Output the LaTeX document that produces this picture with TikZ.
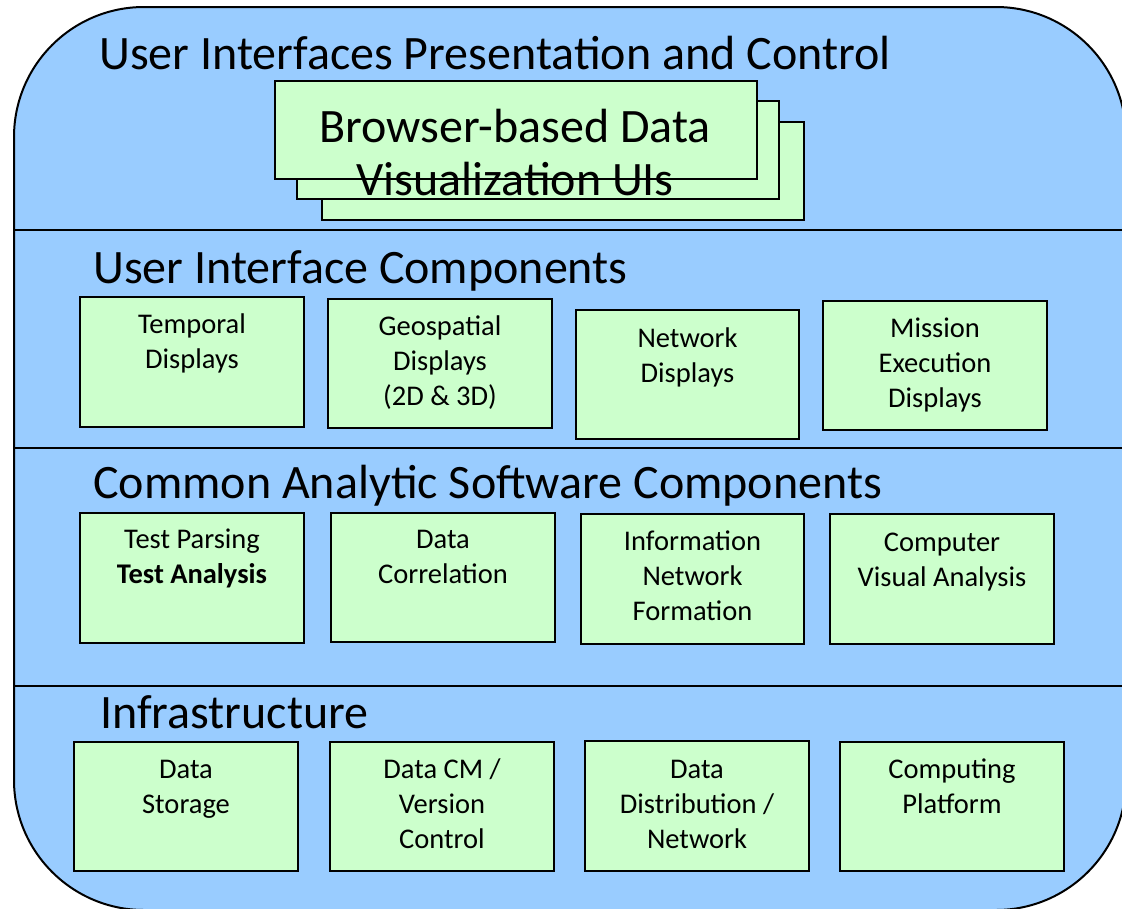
\documentclass[tikz,border=0pt]{standalone}
\usepackage{fontspec}
\setmainfont{Carlito}
\definecolor{bgblue}{HTML}{99CCFF}
\definecolor{boxgreen}{HTML}{CCFFCC}
\tikzset{
  layertitle/.style={font=\fontsize{48}{54}\selectfont, anchor=base west, inner sep=0pt},
  compbox/.style={draw=black, fill=boxgreen, line width=2pt, rectangle, inner sep=0pt, anchor=north west, minimum width=224pt, minimum height=130pt},
  stackbox/.style={draw=black, fill=boxgreen, line width=2pt, rectangle, inner sep=0pt, anchor=north west, minimum width=482pt, minimum height=98pt},
  boxtext/.style={font=\fontsize{28.5}{35}\selectfont, text width=224pt, align=flush center, anchor=base, inner sep=0pt},
  divider/.style={draw=black, line width=2pt},
}
\begin{document}
\begin{tikzpicture}[x=1pt,y=-1pt]
\useasboundingbox (0,0) rectangle (1122,908);
% outer container
\draw[line width=2pt, fill=bgblue, rounded corners=130pt] (14,7) rectangle (1126,910);
\draw[divider] (14,230) -- (1126,230);
\draw[divider] (14,448) -- (1126,448);
\draw[divider] (14,686) -- (1126,686);

% layer 1
\node[layertitle] (l1) at (99,69) {User Interfaces Presentation and Control};
\node[stackbox] (s3) at (321,121) {};
\node[stackbox] (s2) at (296,100) {};
\node[stackbox] (s1) at (274,80) {};
\node[font=\fontsize{48}{53}\selectfont, text width=480pt, align=flush center, anchor=base, inner sep=0pt] (s1t) at (515,142) {Browser-based Data\\Visualization UIs};

% layer 2
\node[layertitle] (l2) at (93,283) {User Interface Components};
\node[compbox] (a1) at (79,296) {};
\node[boxtext] (a1t) at ([yshift=-37pt]a1.north) {Temporal\\Displays};
\node[compbox, minimum height=129pt] (a2) at (327,298) {};
\node[boxtext] (a2t) at ([yshift=-37pt]a2.north) {Geospatial\\Displays\\(2D \& 3D)};
\node[compbox, minimum width=223pt, minimum height=129pt] (a3) at (575,309) {};
\node[boxtext] (a3t) at ([yshift=-38pt]a3.north) {Network\\Displays};
\node[compbox, minimum height=129pt] (a4) at (822,300) {};
\node[boxtext] (a4t) at ([yshift=-37pt]a4.north) {Mission\\Execution\\Displays};

% layer 3
\node[layertitle] (l3) at (93,498) {Common Analytic Software Components};
\node[compbox] (c1) at (79,512) {};
\node[boxtext] (c1t) at ([yshift=-36pt]c1.north) {Test Parsing\\\textbf{Test Analysis}};
\node[compbox, minimum height=129pt] (c2) at (330,512) {};
\node[boxtext] (c2t) at ([yshift=-36pt]c2.north) {Data\\Correlation};
\node[compbox, minimum width=223pt] (c3) at (580,513) {};
\node[boxtext] (c3t) at ([yshift=-37pt]c3.north) {Information\\Network\\Formation};
\node[compbox] (c4) at (829,513) {};
\node[boxtext] (c4t) at ([yshift=-38pt]c4.north) {Computer\\Visual Analysis};

% layer 4
\node[layertitle] (l4) at (100,728) {Infrastructure};
\node[compbox, minimum height=129pt] (d1) at (73,741) {};
\node[boxtext] (d1t) at ([yshift=-37pt]d1.north) {Data\\Storage};
\node[compbox, minimum height=129pt] (d2) at (329,741) {};
\node[boxtext] (d2t) at ([yshift=-37pt]d2.north) {Data CM /\\Version\\Control};
\node[compbox, minimum height=130pt] (d3) at (584,740) {};
\node[boxtext] (d3t) at ([yshift=-38pt]d3.north) {Data\\Distribution /\\Network};
\node[compbox, minimum height=129pt] (d4) at (839,741) {};
\node[boxtext] (d4t) at ([yshift=-37pt]d4.north) {Computing\\Platform};
\end{tikzpicture}
\end{document}
